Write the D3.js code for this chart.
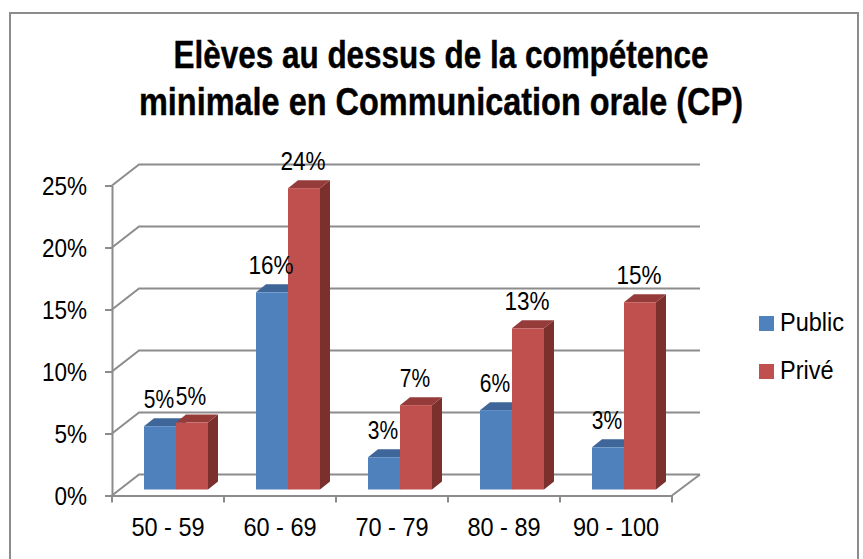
<!DOCTYPE html>
<html><head><meta charset="utf-8">
<script src="https://cdnjs.cloudflare.com/ajax/libs/d3/7.8.5/d3.min.js"></script>
<style>html,body{margin:0;padding:0;background:#fff}svg{display:block}text{font-family:"Liberation Sans",Arial,sans-serif;fill:#000}</style>
</head><body><svg id="c" width="863" height="559"></svg>
<script>
const categories = ["50 - 59","60 - 69","70 - 79","80 - 89","90 - 100"];
const seriesNames = ["Public","Privé"];
const publicValues = [5.1,15.9,2.6,6.4,3.4];
const priveValues = [5.4,24.3,6.8,13.0,15.1];
const yTicks = [0,5,10,15,20,25];
const titleLines = ["Elèves au dessus de la compétence","minimale en Communication orale (CP)"];
const colors = [
  {front:"#4F81BD",top:"#3E6698",side:"#2F4D72"},
  {front:"#C0504D",top:"#953B39",side:"#7B302E"}
];

const svg = d3.select("#c");
const depthX = 28, depthY = 21, barDX = 10, barDY = 8, barBaseLift = 6;
const x = d3.scaleBand().domain(categories).range([112,672]);
const y = d3.scaleLinear().domain([0,25]).range([495.5,185.5]);
const grey = "#8C8C8C";
const labelSize = 25, condense = 0.94;
function squeeze(sel, factor){
  sel.each(function(d){
    const f = typeof factor === "function" ? factor(d) : factor;
    this.setAttribute("textLength", this.getComputedTextLength()*f);
    this.setAttribute("lengthAdjust","spacingAndGlyphs");
  });
}

svg.append("rect").attr("x",10).attr("y",13).attr("width",848).attr("height",560)
  .attr("fill","#fff").attr("stroke",grey).attr("stroke-width",2);

// title
svg.selectAll(".t").data(titleLines).join("text").attr("class","t")
  .attr("x",441).attr("y",(d,i)=>i?115:68).attr("text-anchor","middle")
  .attr("font-size",38).attr("font-weight","bold")
  .attr("stroke","#000").attr("stroke-width",0.4)
  .attr("textLength",(d,i)=>i?604:535).attr("lengthAdjust","spacingAndGlyphs")
  .text(d=>d);

// back wall gridlines + floor/wall diagonals
const g = svg.append("g").attr("fill","none").attr("stroke",grey).attr("stroke-width",2);
yTicks.forEach(t=>{
  g.append("path").attr("d",d3.line()([[x.range()[0],y(t)],[x.range()[0]+depthX-1,y(t)-depthY],[x.range()[1]+depthX,y(t)-depthY]]));
});
g.append("path").attr("d",d3.line()([[x.range()[1],y(0)],[x.range()[1]+depthX,y(0)-depthY]]));

// axes
const yAxis = svg.append("g").attr("transform",`translate(${x.range()[0]},0)`)
  .call(d3.axisLeft(y).tickValues(yTicks).tickSize(7).tickPadding(18).tickSizeOuter(0).tickFormat(d=>d+"%"));
const xAxis = svg.append("g").attr("transform",`translate(0,${y(0)})`)
  .call(d3.axisBottom(x).tickSize(0).tickPadding(23));
[yAxis,xAxis].forEach(a=>{
  a.selectAll("path.domain,line").attr("stroke",grey).attr("stroke-width",2);
  a.attr("font-family",null).attr("font-size",null);
  a.selectAll("text").attr("font-size",labelSize).attr("fill","#000");
});
yAxis.selectAll("text").attr("dy","0.36em").call(squeeze,0.9);
xAxis.selectAll("text").attr("dy","0.71em").call(squeeze,condense);
svg.append("g").attr("stroke",grey).attr("stroke-width",2).selectAll("line")
  .data([...categories.map(c=>x(c)),x.range()[1]]).join("line")
  .attr("x1",d=>d).attr("x2",d=>d).attr("y1",y(0)).attr("y2",y(0)+7);

// bars
const barW = 32, groupOffset = 32;
const yBar = v => y(v) - barBaseLift;
const series = [publicValues, priveValues];
const bars = svg.append("g");
const labels = [];
categories.forEach((c,i)=>{
  series.forEach((vals,s)=>{
    const v = vals[i], x0 = x(c)+groupOffset+s*barW, x1 = x0+barW, yt = yBar(v), yb = yBar(0), col = colors[s];
    bars.append("path").attr("fill",col.side).attr("d",d3.line()([[x1,yt],[x1+barDX,yt-barDY],[x1+barDX,yb-barDY],[x1,yb]])+"Z");
    bars.append("path").attr("fill",col.top).attr("d",d3.line()([[x0,yt],[x0+barDX,yt-barDY],[x1+barDX,yt-barDY],[x1,yt]])+"Z");
    bars.append("rect").attr("fill",col.front).attr("x",x0).attr("y",yt).attr("width",barW).attr("height",yb-yt);
    labels.push({x:x0+barW/2-1,y:yt-18,t:Math.round(v)+"%"});
  });
});
svg.append("g").selectAll("text").data(labels).join("text")
  .attr("x",d=>d.x).attr("y",d=>d.y).attr("text-anchor","middle").attr("font-size",labelSize)
  .text(d=>d.t).call(squeeze,d=>d.t.length>2?0.9:0.84);

// legend
const lg = svg.append("g").selectAll("g").data(seriesNames).join("g")
  .attr("transform",(d,i)=>`translate(759,${316+i*48})`);
lg.append("rect").attr("width",15).attr("height",15).attr("fill",(d,i)=>colors[i].front);
lg.append("text").attr("x",21).attr("y",15).attr("font-size",labelSize).text(d=>d).call(squeeze,condense);
</script></body></html>
